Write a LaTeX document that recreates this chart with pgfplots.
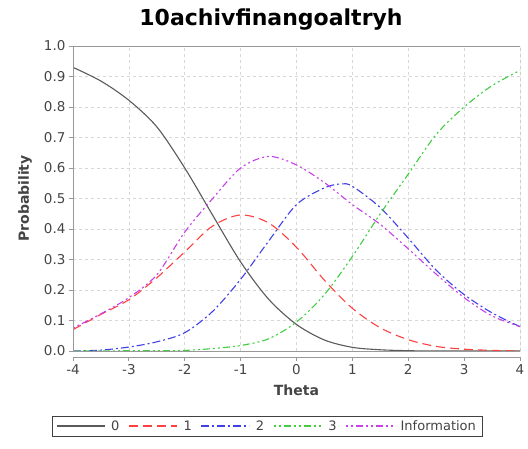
\documentclass[border=0pt]{standalone}
\usepackage{fontspec}
\setmainfont{DejaVu Sans}
\usepackage{pgfplots}
\pgfplotsset{compat=1.18}
\definecolor{cgray}{RGB}{90,90,90}
\definecolor{cred}{RGB}{255,64,64}
\definecolor{cblue}{RGB}{64,64,230}
\definecolor{cgreen}{RGB}{64,205,64}
\definecolor{cmag}{RGB}{200,64,230}
\definecolor{txt}{RGB}{68,68,68}
\definecolor{gridc}{RGB}{215,215,215}
\begin{document}
\begin{tikzpicture}
\useasboundingbox (0,0) rectangle (528pt,448pt);
\node[font=\bfseries\fontsize{22}{25}\selectfont] at (271pt,428pt) {10achivfinangoaltryh};
\begin{axis}[
  at={(73pt,97pt)}, anchor=south west, scale only axis,
  width=447pt, height=305pt,
  xmin=-4, xmax=4, ymin=0, ymax=1,
  xtick={-4,-3,-2,-1,0,1,2,3,4},
  ytick={0,0.1,0.2,0.3,0.4,0.5,0.6,0.7,0.8,0.9,1},
  yticklabel style={/pgf/number format/.cd, fixed, fixed zerofill, precision=1},
  /pgf/number format/assume math mode=true,
  ticklabel style={font=\fontsize{13.5}{15}\selectfont, text=txt},
  axis x line*=bottom, axis y line*=left,
  axis x line shift=6pt,
  axis line style={draw=gray!80, thick},
  tick style={draw=gray!80, thick},
  tick align=outside, major tick length=4pt,
  xmajorgrids, ymajorgrids,
  grid style={gridc, dashed, line width=0.6pt},
  xlabel={Theta}, ylabel={Probability},
  label style={font=\bfseries\fontsize{14}{16}\selectfont, text=txt},
  xlabel style={at={(axis description cs:0.5,-0.128)}, anchor=center},
  ylabel style={at={(axis description cs:-0.107,0.5)}, anchor=center},
  legend columns=5,
  legend style={at={(axis description cs:0.434,-0.246)}, anchor=center,
    draw=black!75, font=\fontsize{13}{15}\selectfont, text=txt,
    inner xsep=4pt, inner ysep=2pt,
    /tikz/every odd column/.append style={column sep=4pt},
    /tikz/every even column/.append style={column sep=7pt}},
  legend image code/.code={\draw[#1] (0pt,0pt) -- (48pt,0pt);},
  clip=true,
]
\addplot[cgray, line width=1.1pt, smooth] coordinates {
(-4,0.930) (-3.5,0.885) (-3,0.822) (-2.5,0.735) (-2,0.600) (-1.5,0.445)
(-1,0.292) (-0.5,0.170) (0,0.087) (0.5,0.036) (1,0.012) (1.5,0.004)
(2,0.001) (2.5,0) (3,0) (3.5,0) (4,0)};
\addlegendentry{0}
\addplot[cred, line width=1.1pt, smooth, dash pattern=on 9pt off 5pt] coordinates {
(-4,0.070) (-3.5,0.120) (-3,0.168) (-2.5,0.240) (-2,0.325) (-1.5,0.410)
(-1,0.446) (-0.5,0.420) (0,0.340) (0.5,0.232) (1,0.140) (1.5,0.076)
(2,0.037) (2.5,0.015) (3,0.006) (3.5,0.002) (4,0)};
\addlegendentry{1}
\addplot[cblue, line width=1.1pt, smooth, dash pattern=on 8pt off 3pt on 2pt off 3pt] coordinates {
(-4,0.0) (-3.5,0.003) (-3,0.013) (-2.5,0.030) (-2,0.060) (-1.5,0.130)
(-1,0.235) (-0.5,0.360) (0,0.480) (0.5,0.535) (0.8,0.548) (1,0.540) (1.5,0.470)
(2,0.370) (2.5,0.265) (3,0.185) (3.5,0.125) (4,0.080)};
\addlegendentry{2}
\addplot[cgreen, line width=1.1pt, smooth, dash pattern=on 2pt off 3pt on 2pt off 3pt on 7pt off 3pt] coordinates {
(-4,0) (-3.5,0) (-3,0.001) (-2.5,0.001) (-2,0.002) (-1.5,0.008) (-1,0.018)
(-0.5,0.040) (0,0.095) (0.5,0.185) (1,0.310) (1.5,0.450) (2,0.580)
(2.5,0.710) (3,0.800) (3.5,0.870) (4,0.920)};
\addlegendentry{3}
\addplot[cmag, line width=1.1pt, smooth, dash pattern=on 2pt off 3pt on 2pt off 3pt on 7pt off 3pt] coordinates {
(-4,0.075) (-3.5,0.122) (-3,0.175) (-2.5,0.250) (-2,0.390) (-1.5,0.500)
(-1,0.600) (-0.5,0.638) (0,0.610) (0.5,0.552) (1,0.480) (1.5,0.415)
(2,0.335) (2.5,0.252) (3,0.175) (3.5,0.115) (4,0.080)};
\addlegendentry{Information}
\draw[gray!80, thick] (rel axis cs:0,0) rectangle (rel axis cs:1,1);
\end{axis}
\end{tikzpicture}
\end{document}
